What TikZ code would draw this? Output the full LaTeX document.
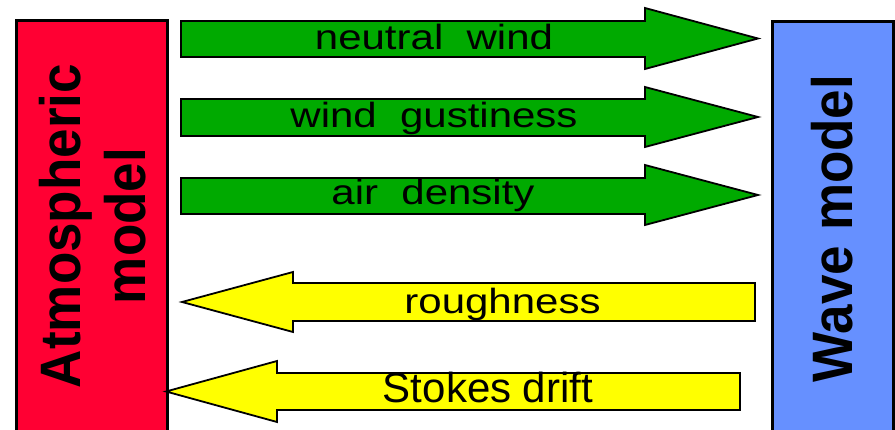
\documentclass[tikz,border=0pt]{standalone}
\usepackage{fontspec}
\usepackage{graphicx}
\setmainfont{Liberation Sans}
\definecolor{atmred}{HTML}{FF0033}
\definecolor{waveblue}{HTML}{6690FF}
\definecolor{agreen}{HTML}{00AA00}
\definecolor{ayellow}{HTML}{FFFF00}
\tikzset{
  modelbox/.style={draw=black, line width=3.4pt, inner sep=0pt, anchor=north west},
  fatarrow/.style={draw=black, line width=1.8pt, line join=miter},
  lbl/.style={anchor=base, inner sep=0pt, text=black},
  vlbl/.style={anchor=base, inner sep=0pt, rotate=90, text=black},
}
\newcommand{\armtxt}[1]{\scalebox{1.2}[1]{\fontsize{35}{40}\selectfont #1}}
\newcommand{\boldvtxt}[1]{\scalebox{0.93}[1]{\fontsize{57}{60}\selectfont\bfseries #1}}
\begin{document}
\begin{tikzpicture}[x=1pt,y=-1pt]
\useasboundingbox (0,0) rectangle (895,430);
\clip (0,0) rectangle (895,430);
% model boxes
\node[modelbox, fill=atmred, minimum width=151pt, minimum height=440pt] (atm) at (15,19) {};
\node[modelbox, fill=waveblue, minimum width=121pt, minimum height=440pt] (wave) at (770.5,20) {};
\node[vlbl] (atmt1) at (80,226) {\boldvtxt{Atmospheric}};
\node[vlbl] (atmt2) at (145,226) {\boldvtxt{model}};
\node[vlbl] (wavet) at (852,228.5) {\boldvtxt{Wave model}};
% green arrows
\draw[fatarrow, fill=agreen] (181,21) -- (645,21) -- (645,8) -- (758,38.5) -- (645,69) -- (645,57) -- (181,57) -- cycle;
\draw[fatarrow, fill=agreen] (181,99) -- (645,99) -- (645,87) -- (758,117) -- (645,147) -- (645,136) -- (181,136) -- cycle;
\draw[fatarrow, fill=agreen] (181,178) -- (645,178) -- (645,165) -- (758,195) -- (645,225) -- (645,214) -- (181,214) -- cycle;
% yellow arrows
\draw[fatarrow, fill=ayellow] (755,283) -- (293,283) -- (293,272) -- (182,302) -- (293,332) -- (293,321) -- (755,321) -- cycle;
\draw[fatarrow, fill=ayellow] (740,373) -- (277,373) -- (277,361) -- (166,391.5) -- (277,422) -- (277,410) -- (740,410) -- cycle;
% labels
\node[lbl] (l1) at (434,50) {\armtxt{neutral\ \ wind}};
\node[lbl] (l2) at (434,128) {\armtxt{wind\ \ gustiness}};
\node[lbl] (l3) at (433,205) {\armtxt{air\ \ density}};
\node[lbl] (l4) at (502.5,314) {\armtxt{roughness}};
\node[lbl] (l5) at (488,403) {\fontsize{42}{46}\selectfont Stokes drift};
\end{tikzpicture}
\end{document}
